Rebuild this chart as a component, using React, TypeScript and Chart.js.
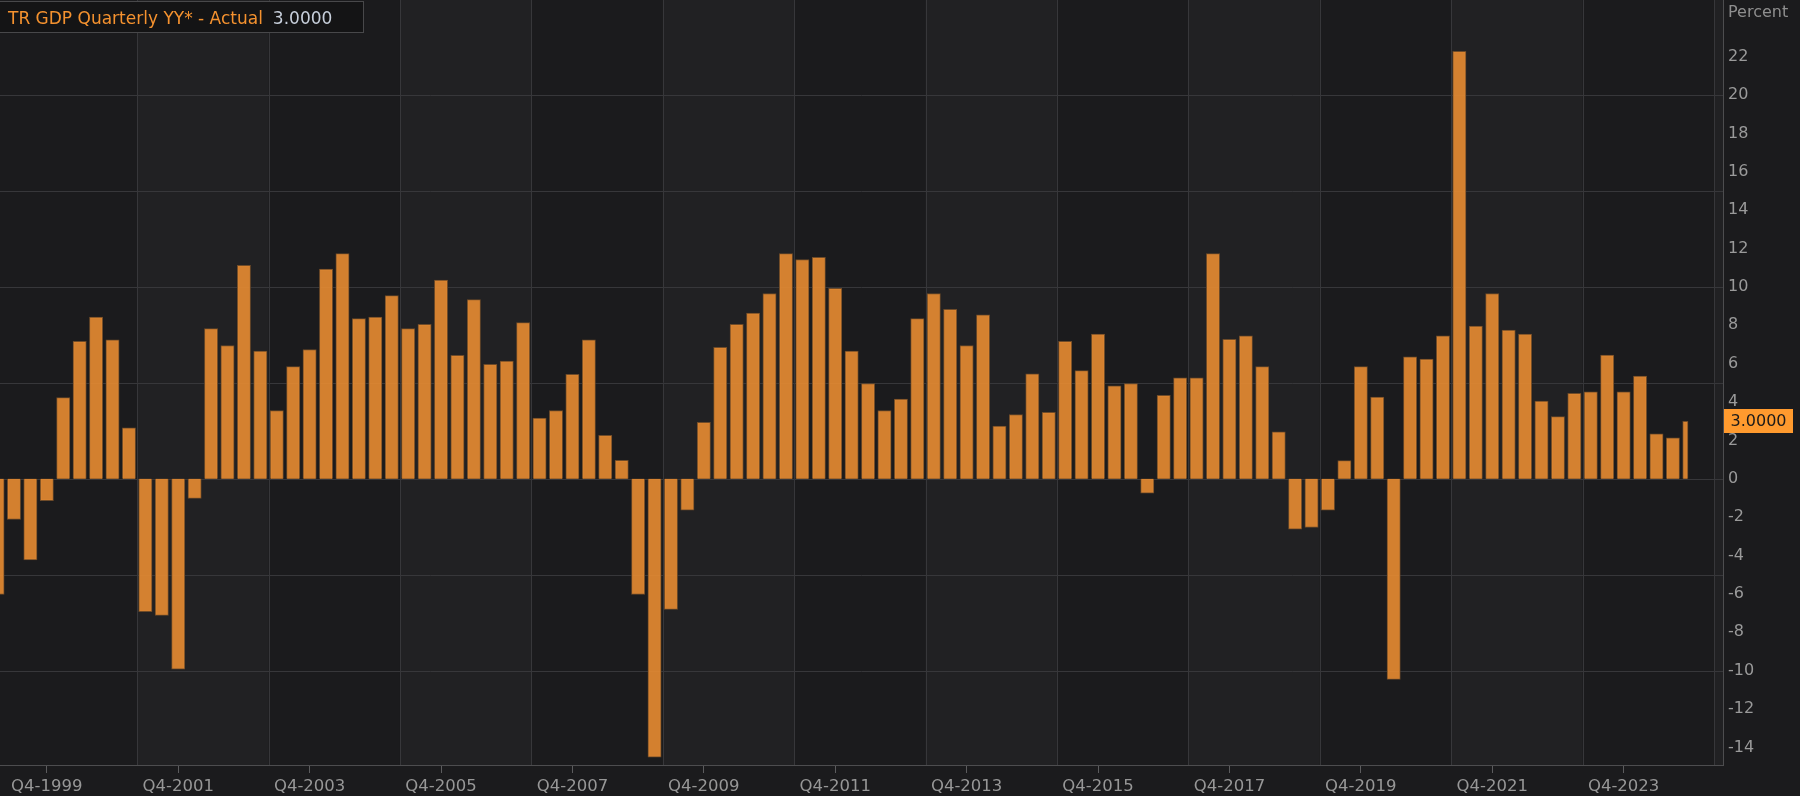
import React, { useEffect, useRef } from 'react';
import { Chart, registerables } from 'chart.js';

Chart.register(...registerables);

// ---------- data ----------
const startYear = 1999;
const endYear = 2024;
const quarters: string[] = [];
for (let y = startYear; y <= endYear; y++) {
  for (let q = 1; q <= 4; q++) quarters.push(`Q${q}-${y}`);
}

// Quarterly YoY GDP growth, Q1-1999 .. Q4-2024
const gdp1999_2003 = [
  -6.03, -2.12, -4.23, -1.14,
  4.23, 7.16, 8.43, 7.24,
  2.66, -6.93, -7.12, -9.93,
  -1.02, 7.83, 6.95, 11.13,
  6.66, 3.56, 5.85, 6.74,
];
const gdp2004_2008 = [
  10.93, 11.74, 8.35, 8.43,
  9.55, 7.83, 8.05, 10.36,
  6.43, 9.34, 5.97, 6.14,
  8.14, 3.16, 3.56, 5.45,
  7.24, 2.27, 0.96, -6.03,
];
const gdp2009_2013 = [
  -14.51, -6.81, -1.64, 2.95,
  6.85, 8.05, 8.64, 9.66,
  11.74, 11.43, 11.55, 9.93,
  6.66, 4.97, 3.56, 4.16,
  8.35, 9.66, 8.84, 6.95,
];
const gdp2014_2018 = [
  8.55, 2.75, 3.35, 5.47,
  3.46, 7.16, 5.64, 7.55,
  4.85, 4.97, -0.75, 4.35,
  5.26, 5.26, 11.74, 7.27,
  7.45, 5.85, 2.45, -2.63,
];
const gdp2019_2024 = [
  -2.54, -1.63, 0.95, 5.85,
  4.26, -10.46, 6.36, 6.24,
  7.45, 22.29, 7.96, 9.66,
  7.75, 7.55, 4.05, 3.24,
  4.45, 4.54, 6.45, 4.54,
  5.36, 2.35, 2.14, 3.0,
];
const gdpValues = [...gdp1999_2003, ...gdp2004_2008, ...gdp2009_2013, ...gdp2014_2018, ...gdp2019_2024];

const xTickLabels = [
  'Q4-1999', 'Q4-2001', 'Q4-2003', 'Q4-2005', 'Q4-2007', 'Q4-2009', 'Q4-2011',
  'Q4-2013', 'Q4-2015', 'Q4-2017', 'Q4-2019', 'Q4-2021', 'Q4-2023',
];
const yTickValues = [-14, -12, -10, -8, -6, -4, -2, 0, 2, 4, 6, 8, 10, 12, 14, 16, 18, 20, 22];
const yGridValues = [-10, -5, 0, 5, 10, 15, 20];
const seriesName = 'TR GDP Quarterly YY* - Actual';
const unitLabel = 'Percent';
const firstGridQuarter = 'Q1-2001';

// ---------- view / style ----------
const X_MIN = 0.15;
const X_MAX = 105.05;
const Y_MIN = -14.92;
const Y_MAX = 24.96;
const FONT = '"DejaVu Sans", "Noto Sans", sans-serif';
const BG = '#1b1b1d';
const BAND = '#212123';
const GRID = '#37373a';
const BAR_FILL = 'rgba(232,140,50,0.9)';
const BAR_BORDER = '#6f4b28';
const LAST_BAR_FRACTION = 0.4;

const decorPlugin = {
  id: 'decor',
  afterDatasetsUpdate(chart: any) {
    const meta = chart.getDatasetMeta(0);
    const el = meta.data[meta.data.length - 1];
    if (!el) return;
    const w = el.width;
    const nw = w * LAST_BAR_FRACTION;
    el.x = el.x - w / 2 + nw / 2;
    el.width = nw;
  },
  beforeDraw(chart: any) {
    const { ctx, chartArea: a, scales } = chart;
    const x = scales.x;
    const y = scales.y;
    ctx.save();
    ctx.fillStyle = BG;
    ctx.fillRect(0, 0, chart.width, chart.height);
    ctx.beginPath();
    ctx.rect(a.left, a.top, a.right - a.left, a.bottom - a.top);
    ctx.clip();
    const first = quarters.indexOf(firstGridQuarter) + 0.5;
    ctx.fillStyle = BAND;
    for (let g = first; g < X_MAX; g += 16) {
      const x0 = x.getPixelForValue(g);
      const x1 = x.getPixelForValue(g + 8);
      ctx.fillRect(x0, a.top, x1 - x0, a.bottom - a.top);
    }
    ctx.strokeStyle = GRID;
    ctx.lineWidth = 1;
    ctx.beginPath();
    for (let g = first; g < X_MAX; g += 8) {
      const px = Math.round(x.getPixelForValue(g)) + 0.5;
      ctx.moveTo(px, a.top);
      ctx.lineTo(px, a.bottom);
    }
    for (const v of yGridValues) {
      const py = Math.round(y.getPixelForValue(v)) + 0.5;
      ctx.moveTo(a.left, py);
      ctx.lineTo(a.right, py);
    }
    ctx.stroke();
    ctx.restore();
  },
  afterDraw(chart: any) {
    const { ctx, scales } = chart;
    const y = scales.y;
    ctx.save();
    // legend box
    ctx.fillStyle = '#141415';
    ctx.fillRect(0, 1, 363, 32);
    ctx.strokeStyle = '#48484a';
    ctx.lineWidth = 1;
    ctx.strokeRect(-1, 1.5, 364.5, 31);
    ctx.font = `17px ${FONT}`;
    ctx.textBaseline = 'alphabetic';
    ctx.textAlign = 'left';
    ctx.fillStyle = '#f5922f';
    ctx.fillText(seriesName, 8, 23.5);
    const tw = ctx.measureText(seriesName).width;
    const last = gdpValues[gdpValues.length - 1];
    ctx.fillStyle = '#c7cfdb';
    ctx.fillText(last.toFixed(4), 8 + tw + 10, 23.5);
    // unit label
    ctx.font = `16px ${FONT}`;
    ctx.fillStyle = '#8e8e8e';
    ctx.fillText(unitLabel, y.left + 5, 17);
    // last value box
    const py = y.getPixelForValue(last);
    ctx.fillStyle = '#ff9a2e';
    ctx.fillRect(y.left + 1, Math.round(py) - 12, 69, 24);
    ctx.fillStyle = '#1a1a1a';
    ctx.textBaseline = 'middle';
    ctx.fillText(last.toFixed(4), y.left + 7.5, py + 1);
    ctx.restore();
  },
};

export default function App() {
  const ref = useRef<HTMLCanvasElement>(null);
  useEffect(() => {
    if (!ref.current) return;
    const chart = new Chart(ref.current, {
      type: 'bar',
      data: {
        datasets: [
          {
            label: seriesName,
            data: gdpValues.map((v, i) => ({ x: i, y: v })),
            backgroundColor: BAR_FILL,
            borderColor: BAR_BORDER,
            borderWidth: 1,
            borderSkipped: 'start',
            barThickness: 13.3,
          } as any,
        ],
      },
      options: {
        responsive: false,
        animation: false,
        devicePixelRatio: 1,
        layout: { padding: 0 },
        plugins: { legend: { display: false }, tooltip: { enabled: false } },
        scales: {
          x: {
            type: 'linear',
            position: 'bottom',
            offset: false,
            min: X_MIN,
            max: X_MAX,
            afterBuildTicks: (s: any) => {
              s.ticks = xTickLabels.map((l) => ({ value: quarters.indexOf(l) }));
            },
            afterFit: (s: any) => {
              s.height = 31;
              s.paddingLeft = 0;
              s.paddingRight = 0;
            },
            ticks: {
              callback: (v: any) => quarters[Math.round(Number(v))],
              font: { family: FONT, size: 16.5 },
              color: '#979797',
              padding: 4,
              maxRotation: 0,
              autoSkip: false,
            },
            grid: {
              display: true,
              offset: false,
              drawOnChartArea: false,
              drawTicks: true,
              tickLength: 8,
              tickColor: '#5c5c5e',
              tickWidth: 1,
            },
            border: { display: true, color: '#4d4d4f', width: 1 },
          },
          y: {
            type: 'linear',
            position: 'right',
            min: Y_MIN,
            max: Y_MAX,
            afterBuildTicks: (s: any) => {
              s.ticks = yTickValues.map((v) => ({ value: v }));
            },
            afterFit: (s: any) => {
              s.width = 77;
              s.paddingTop = 0;
              s.paddingBottom = 0;
            },
            ticks: {
              callback: (v: any) => String(v),
              font: { family: FONT, size: 16 },
              color: '#9a9a9a',
              padding: 5,
            },
            grid: { display: false, drawTicks: false },
            border: { display: true, color: '#4d4d4f', width: 1 },
          },
        },
      } as any,
      plugins: [decorPlugin],
    });
    return () => chart.destroy();
  }, []);
  return (
    <div style={{ position: 'fixed', left: 0, top: 0, width: 1800, height: 796, background: BG }}>
      <canvas ref={ref} width={1800} height={796} style={{ display: 'block', width: 1800, height: 796 }} />
    </div>
  );
}
